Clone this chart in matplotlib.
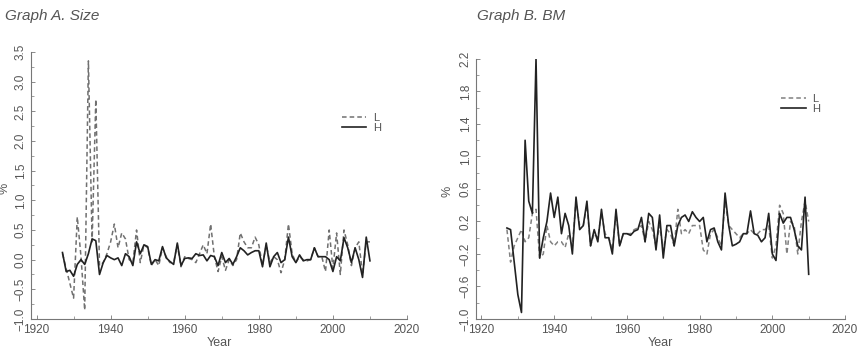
import matplotlib
matplotlib.use("Agg")
import matplotlib.pyplot as plt
from matplotlib.ticker import MultipleLocator, FixedLocator

plt.rcParams['font.family'] = ['Liberation Sans', 'DejaVu Sans']

years = list(range(1927, 2011))

# Graph A. Size
size_L = [0.1, -0.15, -0.4, -0.65, 0.72, 0.05, -0.85, 3.35, 0.3, 2.7,
          -0.1, -0.05, 0.1, 0.3, 0.6, 0.2, 0.45, 0.35, 0.0, -0.05,
          0.5, -0.05, 0.25, 0.2, -0.1, 0.0, -0.1, 0.2, 0.05, -0.05,
          -0.05, 0.25, -0.12, 0.05, 0.02, 0.0, -0.05, 0.1, 0.25, 0.1,
          0.6, 0.05, -0.2, 0.05, -0.18, 0.0, -0.1, 0.0, 0.45, 0.3,
          0.2, 0.2, 0.38, 0.25, -0.1, 0.25, -0.05, 0.05, 0.0, -0.22,
          0.0, 0.6, 0.1, -0.05, 0.05, 0.0, -0.02, 0.0, 0.2, 0.05,
          0.05, -0.2, 0.5, -0.15, 0.45, -0.25, 0.5, 0.25, -0.1, 0.2,
          0.3, -0.25, 0.3, 0.3]
size_H = [0.12, -0.2, -0.18, -0.28, -0.08, 0.0, -0.08, 0.1, 0.35, 0.32,
          -0.25, -0.05, 0.07, 0.03, 0.0, 0.03, -0.1, 0.1, 0.05, -0.1,
          0.3, 0.1, 0.25, 0.22, -0.08, 0.0, -0.02, 0.22, 0.03, -0.03,
          -0.08, 0.28, -0.1, 0.02, 0.03, 0.02, 0.1, 0.07, 0.08, -0.02,
          0.07, 0.05, -0.1, 0.12, -0.05, 0.02, -0.08, 0.05, 0.2, 0.15,
          0.08, 0.12, 0.15, 0.15, -0.12, 0.28, -0.12, 0.05, 0.12, -0.05,
          0.0, 0.38, 0.05, -0.05, 0.08, -0.02, 0.0, 0.0, 0.2, 0.05,
          0.05, 0.05, 0.0, -0.2, 0.05, -0.02, 0.37, 0.2, -0.05, 0.2,
          0.0, -0.3, 0.38, -0.02]
size_yticks = [-1.0, -0.5, 0.0, 0.5, 1.0, 1.5, 2.0, 2.5, 3.0, 3.5]

# Graph B. BM
bm_L = [0.1, -0.3, -0.1, 0.0, 0.1, -0.05, 0.0, 0.3, 0.35, -0.25,
        -0.2, 0.15, -0.05, -0.1, -0.05, -0.05, -0.12, 0.05, -0.1, 0.45,
        0.15, 0.15, 0.4, -0.1, 0.05, 0.0, 0.3, 0.05, 0.0, -0.15,
        0.3, -0.1, 0.05, 0.05, 0.05, 0.1, 0.12, 0.15, -0.05, 0.2,
        0.1, -0.1, 0.15, -0.15, 0.1, 0.05, -0.1, 0.35, 0.05, 0.1,
        0.05, 0.15, 0.15, 0.15, -0.15, -0.2, 0.05, 0.1, 0.0, -0.1,
        0.45, 0.15, 0.1, 0.05, 0.0, 0.05, 0.05, 0.1, 0.05, 0.05,
        0.1, 0.1, 0.15, -0.25, -0.1, 0.4, 0.3, -0.2, 0.2, 0.15,
        -0.2, 0.2, 0.45, 0.2]
bm_H = [0.12, 0.1, -0.3, -0.7, -0.92, 1.2, 0.45, 0.3, 2.2, -0.25,
        0.0, 0.2, 0.55, 0.25, 0.5, 0.05, 0.3, 0.15, -0.2, 0.5,
        0.1, 0.15, 0.45, -0.1, 0.1, -0.05, 0.35, 0.0, 0.0, -0.2,
        0.35, -0.1, 0.05, 0.05, 0.03, 0.08, 0.1, 0.25, -0.05, 0.3,
        0.25, -0.15, 0.28, -0.25, 0.15, 0.15, -0.1, 0.15, 0.25, 0.28,
        0.2, 0.32, 0.25, 0.2, 0.25, -0.05, 0.1, 0.12, -0.05, -0.15,
        0.55, 0.15, -0.1, -0.08, -0.05, 0.05, 0.05, 0.33, 0.05, 0.03,
        -0.05, 0.0, 0.3, -0.2, -0.28, 0.3, 0.18, 0.25, 0.25, 0.1,
        -0.1, -0.15, 0.5, -0.45]
bm_yticks = [-1.0, -0.6, -0.2, 0.2, 0.6, 1.0, 1.4, 1.8, 2.2]

txt = '#555555'
fig = plt.figure(figsize=(8.63, 3.52), dpi=100)
axA = fig.add_axes([0.0359, 0.0938, 0.4357, 0.7585])
axB = fig.add_axes([0.5516, 0.0938, 0.4276, 0.7386])


def style(ax, yticks, yminor, leg_y, ylab_x):
    ax.set_xlim(1918.5, 2020)
    ax.set_ylim(yticks[0], yticks[-1])
    ax.xaxis.set_major_locator(MultipleLocator(20))
    ax.xaxis.set_minor_locator(MultipleLocator(10))
    ax.yaxis.set_major_locator(FixedLocator(yticks))
    ax.yaxis.set_minor_locator(MultipleLocator(yminor))
    for s in ('top', 'right'):
        ax.spines[s].set_visible(False)
    for s in ('left', 'bottom'):
        ax.spines[s].set_color('#777777')
        ax.spines[s].set_linewidth(0.8)
    ax.tick_params(direction='in', length=3, width=0.6, colors='#777777',
                   labelcolor=txt, labelsize=8.5)
    ax.tick_params(which='minor', direction='in', length=2, width=0.5, colors='#777777')
    ax.tick_params(axis='y', labelrotation=90, pad=3)
    for lab in ax.get_yticklabels():
        lab.set_va('center')
    ax.set_xlabel('Year', color=txt, fontsize=9, labelpad=1)
    ax.set_ylabel('%', color=txt, fontsize=9)
    ax.yaxis.set_label_coords(ylab_x, 0.49)
    ax.legend(loc='upper left', bbox_to_anchor=(0.8, leg_y), frameon=False,
              fontsize=8, labelcolor=txt, handlelength=2.2, labelspacing=0.05,
              handletextpad=0.6)


axA.plot(years, size_L, ls=(0, (3, 2)), color='#707070', lw=1.1, label='L')
axA.plot(years, size_H, ls='-', color='#222222', lw=1.2, label='H')
style(axA, size_yticks, 0.25, 0.81, -0.055)

axB.plot(years, bm_L, ls=(0, (3, 2)), color='#808080', lw=1.1, label='L')
axB.plot(years, bm_H, ls='-', color='#222222', lw=1.2, label='H')
style(axB, bm_yticks, 0.2, 0.905, -0.062)

fig.text(0.006, 0.955, 'Graph A. Size', style='italic', color=txt, fontsize=11, va='center')
fig.text(0.5525, 0.955, 'Graph B. BM', style='italic', color=txt, fontsize=11, va='center')

fig.savefig('out.png', dpi=100)
